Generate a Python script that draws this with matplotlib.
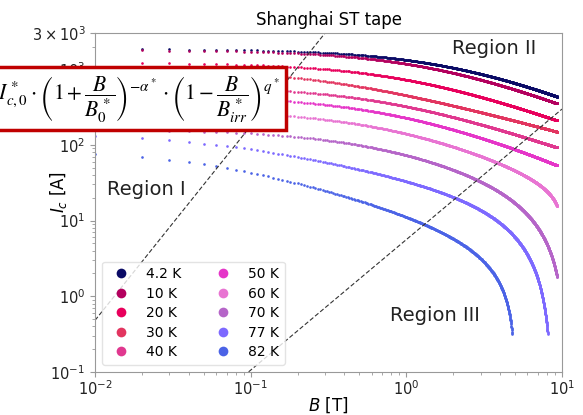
import numpy as np
import matplotlib
matplotlib.use("Agg")
import matplotlib.pyplot as plt
from matplotlib.lines import Line2D

# temperatures and colours
temps = ["4.2 K", "10 K", "20 K", "30 K", "40 K", "50 K", "60 K", "70 K", "77 K", "82 K"]
colors = ["#0b0b66", "#b3005e", "#e8005c", "#e23560", "#e0388f",
          "#e535c8", "#e874d2", "#b565c8", "#7d69ff", "#4b63e6"]

# fit parameters of Ic(B) = Ic0 (1+B/B0)^-alpha (1-B/Birr)^q
Ic0 = [1855, 1800, 1224, 1015, 601, 446, 288, 160, 140.7, 84.5]
B0 = [2.0, 1.5, 1.0, 0.3, 0.7, 0.7, 0.7, 0.5, 0.05, 0.05]
alpha = [0.81, 0.82, 0.75, 0.55, 0.7, 0.74, 0.77, 0.6, 0.42, 0.6]
Birr = [200, 1000, 1000, 1000, 1000, 127, 10.0, 10.5, 8.6, 5.0]
q = [1.0, 1.0, 1.0, 1.0, 1.0, 2.0, 0.33, 1.25, 1.4, 0.9]
B_start = [0.02, 0.02, 0.02, 0.02, 0.02, 0.02, 0.02, 0.02, 0.01, 0.01]
B_end = [9.3, 9.3, 9.3, 9.3, 9.3, 9.3, 9.3, 9.3, 8.1, 4.8]
B_step = 0.01

# region boundaries (dashed)
sep1_B = [0.01, 0.30]
sep1_I = [0.48, 3000]
sep2_B = [0.097, 10]
sep2_I = [0.1, 298]

fig = plt.figure(figsize=(5.83, 4.15), dpi=100)
ax = fig.add_axes([0.163, 0.104, 0.801, 0.816])

for i in range(len(temps)):
    B = np.arange(B_start[i], B_end[i], B_step)
    Ic = Ic0[i] * (1 + B / B0[i]) ** (-alpha[i]) * (1 - B / Birr[i]) ** q[i]
    ax.plot(B, Ic, "o", ms=1.9, mew=0, ls="none", color=colors[i])

ax.plot(sep1_B, sep1_I, ls=(0, (4, 2)), color="#333333", lw=0.8)
ax.plot(sep2_B, sep2_I, ls=(0, (4, 2)), color="#333333", lw=0.8)

ax.set_xscale("log")
ax.set_yscale("log")
ax.set_xlim(0.01, 10)
ax.set_ylim(0.1, 3000)
ax.set_yticks([0.1, 1, 10, 100, 1000, 3000],
              [r"$\mathdefault{10^{-1}}$", r"$\mathdefault{10^{0}}$", r"$\mathdefault{10^{1}}$",
               r"$\mathdefault{10^{2}}$", r"$\mathdefault{10^{3}}$", r"$\mathdefault{3\times10^{3}}$"])

for s in ax.spines.values():
    s.set_color("#999999")
ax.tick_params(which="both", colors="#999999", labelcolor="#222222", labelsize=10.5)
ax.tick_params(axis="x", pad=2)

ax.set_xlabel("$B$ [T]", fontsize=12, labelpad=-2)
ax.set_ylabel("$I_c$ [A]", fontsize=12)
ax.yaxis.set_label_coords(-0.055, 0.53)
ax.set_title("Shanghai ST tape", fontsize=12)

ax.text(0.764, 0.956, "Region II", transform=ax.transAxes, fontsize=14, va="center", color="#222222")
ax.text(0.026, 0.537, "Region I", transform=ax.transAxes, fontsize=14, va="center", color="#222222")
ax.text(0.632, 0.165, "Region III", transform=ax.transAxes, fontsize=14, va="center", color="#222222")

handles = [Line2D([], [], marker="o", ls="none", ms=7, mew=0, color=c) for c in colors]
leg = ax.legend(handles, temps, loc="lower left", ncol=2, fontsize=10, labelspacing=0.4)
leg.get_frame().set_edgecolor("#dddddd")

formula = (r"$I_c = I^*_{c,0}\cdot\left(1+\dfrac{B}{B^*_0}\right)^{-\alpha^*}"
           r"\cdot\left(1-\dfrac{B}{B^*_{irr}}\right)^{q^*}$")
fig.text(280 / 583, 1 - 98.5 / 415, formula, ha="right", va="center", fontsize=15.5,
         math_fontfamily="stix",
         bbox=dict(boxstyle="square,pad=0.3", fc="white", ec="#c00000", lw=2.5))

fig.savefig("out.png", dpi=100)
